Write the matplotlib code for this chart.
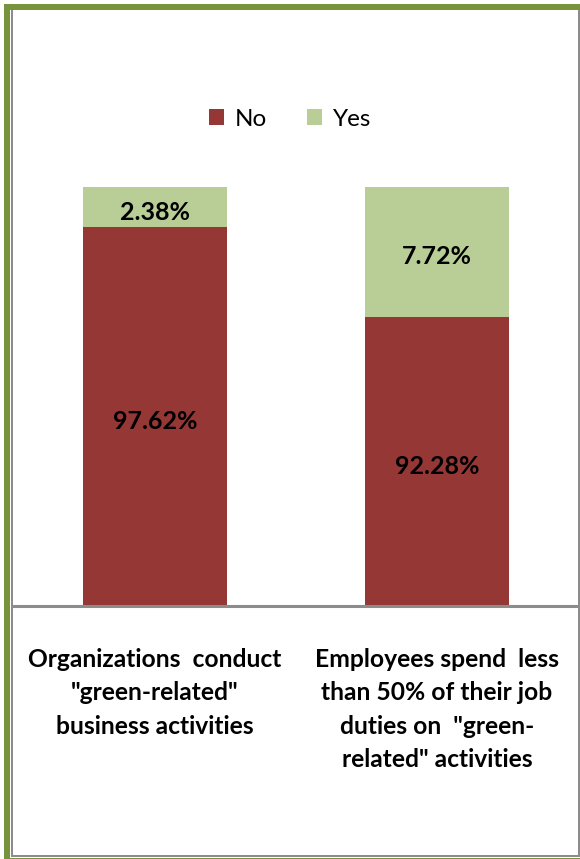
import matplotlib
matplotlib.use("Agg")
import matplotlib.pyplot as plt
from matplotlib.patches import Rectangle
import numpy as np

plt.rcParams["font.family"] = ["Lato", "DejaVu Sans"]

CATEGORIES = [
    "Organizations  conduct\n\"green-related\"\nbusiness activities",
    "Employees spend  less\nthan 50% of their job\nduties on  \"green-\nrelated\" activities",
]
NO_VALUES = [97.62, 92.28]
YES_VALUES = [2.38, 7.72]
SERIES = ["No", "Yes"]

NO_COLOUR = "#953735"
YES_COLOUR = "#B9CD96"
FRAME_GREEN = "#77933C"
FRAME_GREY = "#8C8C8C"

W, H = 580, 859
fig = plt.figure(figsize=(W / 100, H / 100), dpi=100)


def fx(px):
    return px / W


def fy(py):
    return 1 - py / H


# axes placed where the bars sit in the picture
ax = fig.add_axes([fx(14), fy(606), fx(578) - fx(14), fy(187.3) - fy(606)])
x = np.arange(len(CATEGORIES))
ax.bar(x, NO_VALUES, width=0.51, color=NO_COLOUR, label=SERIES[0], zorder=2)
ax.bar(x, YES_VALUES, bottom=NO_VALUES, width=0.51, color=YES_COLOUR,
       label=SERIES[1], zorder=2)
ax.set_ylim(75, 100)
ax.set_xlim(-0.5, 1.5)
ax.set_yticks([])
ax.set_xticks([])
for side in ["left", "right", "top"]:
    ax.spines[side].set_visible(False)
ax.spines["bottom"].set_color(FRAME_GREY)
ax.spines["bottom"].set_linewidth(2.2)
ax.patch.set_alpha(0)

# value labels in the middle of the visible part of each segment
lo, hi = ax.get_ylim()
for i, (n, y) in enumerate(zip(NO_VALUES, YES_VALUES)):
    for val, mid in [(n, (lo + n) / 2), (y, (n + min(n + y, hi)) / 2)]:
        ax.annotate(f"{val:.2f}%", (i, mid), xytext=(0, -3),
                    textcoords="offset pixels", ha="center",
                    va="center_baseline", fontsize=18, fontweight="bold",
                    color="black", zorder=3)

# category labels under the axis
for i, lab in enumerate(CATEGORIES):
    ax.text(i, -0.1, lab, transform=ax.get_xaxis_transform(), ha="center",
            va="top", fontsize=17.7, fontweight="bold", linespacing=1.55)

fig.legend(loc="center", bbox_to_anchor=(fx(290), fy(119)), ncol=2,
           frameon=False, fontsize=17.5, handlelength=0.6, handleheight=0.6,
           handletextpad=0.45, columnspacing=1.65)

# frame round the picture
fig.add_artist(Rectangle((fx(4), fy(H)), fx(6), fy(4) - fy(H),
                         transform=fig.transFigure, color=FRAME_GREEN, lw=0))
fig.add_artist(Rectangle((fx(4), fy(10)), fx(W) - fx(4), fy(4) - fy(10),
                         transform=fig.transFigure, color=FRAME_GREEN, lw=0))
fig.add_artist(Rectangle((fx(4), fy(H)), fx(W), fy(858) - fy(H),
                         transform=fig.transFigure, color=FRAME_GREEN, lw=0))
fig.add_artist(Rectangle((fx(11), fy(857)), fx(2), fy(10) - fy(857),
                         transform=fig.transFigure, color=FRAME_GREY, lw=0))
fig.add_artist(Rectangle((fx(11), fy(857)), fx(569), fy(855) - fy(857),
                         transform=fig.transFigure, color=FRAME_GREY, lw=0))
fig.add_artist(Rectangle((fx(578), fy(857)), fx(2), fy(10) - fy(857),
                         transform=fig.transFigure, color=FRAME_GREY, lw=0))

fig.savefig("out.png", dpi=100)
